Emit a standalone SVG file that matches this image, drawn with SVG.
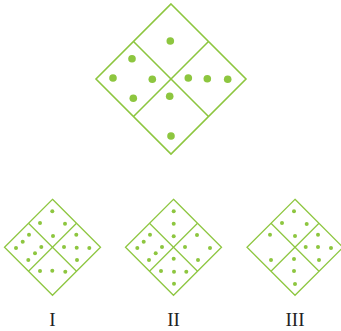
<svg xmlns="http://www.w3.org/2000/svg" width="341" height="331" viewBox="0 0 341 331">
<style>
.g{fill:none;stroke:#8dc63f;stroke-width:1.6}
.s{fill:none;stroke:#8dc63f;stroke-width:1.3}
.d{fill:#8dc63f}
.lbl{font-family:"Liberation Serif","Times New Roman",serif;font-size:19px;fill:#222;text-anchor:middle}
</style>
<rect width="341" height="331" fill="#fff"/>
<g id="main">
<polygon class="g" points="171,4 246,79 171,154 96,79"/>
<line class="g" x1="133.5" y1="41.5" x2="208.5" y2="116.5"/>
<line class="g" x1="208.5" y1="41.5" x2="133.5" y2="116.5"/>
<g class="d">
<circle cx="170.3" cy="41" r="3.8"/>
<circle cx="132" cy="58.7" r="3.8"/>
<circle cx="113" cy="78" r="3.8"/>
<circle cx="152.3" cy="79.3" r="3.8"/>
<circle cx="133.3" cy="98.3" r="3.8"/>
<circle cx="188.3" cy="78" r="3.8"/>
<circle cx="207.3" cy="78.7" r="3.8"/>
<circle cx="227.7" cy="79.3" r="3.8"/>
<circle cx="169.7" cy="96.3" r="3.8"/>
<circle cx="171" cy="136" r="3.8"/>
</g>
</g>
<g id="optI">
<polygon class="s" points="52.5,199.3 100.5,247.3 52.5,295.3 4.5,247.3"/>
<line class="s" x1="28.5" y1="223.3" x2="76.5" y2="271.3"/>
<line class="s" x1="76.5" y1="223.3" x2="28.5" y2="271.3"/>
<g class="d">
<circle cx="52.3" cy="211.3" r="2"/>
<circle cx="40" cy="223" r="2"/>
<circle cx="65" cy="223.7" r="2"/>
<circle cx="53" cy="236" r="2"/>
<circle cx="29" cy="234.7" r="2"/>
<circle cx="22.7" cy="241.7" r="2"/>
<circle cx="16" cy="248" r="2"/>
<circle cx="41.3" cy="247" r="2"/>
<circle cx="35" cy="253.3" r="2"/>
<circle cx="28.3" cy="260" r="2"/>
<circle cx="76.3" cy="234.7" r="2"/>
<circle cx="64" cy="247" r="2"/>
<circle cx="76.7" cy="247.7" r="2"/>
<circle cx="89.3" cy="248" r="2"/>
<circle cx="77" cy="260" r="2"/>
<circle cx="40" cy="271" r="2"/>
<circle cx="52.3" cy="270.7" r="2"/>
<circle cx="65.3" cy="271.7" r="2"/>
</g>
<text class="lbl" x="52.5" y="325.5">I</text>
</g>
<g id="optII">
<polygon class="s" points="173.5,199.3 221.5,247.3 173.5,295.3 125.5,247.3"/>
<line class="s" x1="149.5" y1="223.3" x2="197.5" y2="271.3"/>
<line class="s" x1="197.5" y1="223.3" x2="149.5" y2="271.3"/>
<g class="d">
<circle cx="173.7" cy="211.3" r="2"/>
<circle cx="173.7" cy="223.7" r="2"/>
<circle cx="173.7" cy="236.3" r="2"/>
<circle cx="150" cy="234.7" r="2"/>
<circle cx="143.7" cy="241.7" r="2"/>
<circle cx="137.3" cy="248" r="2"/>
<circle cx="162" cy="247" r="2"/>
<circle cx="155.7" cy="253.3" r="2"/>
<circle cx="149" cy="260" r="2"/>
<circle cx="197" cy="235" r="2"/>
<circle cx="185" cy="247" r="2"/>
<circle cx="210" cy="248" r="2"/>
<circle cx="198" cy="260" r="2"/>
<circle cx="173.7" cy="258.7" r="2"/>
<circle cx="161" cy="271" r="2"/>
<circle cx="174" cy="271.7" r="2"/>
<circle cx="186.3" cy="271.7" r="2"/>
<circle cx="174" cy="283.7" r="2"/>
</g>
<text class="lbl" x="173.5" y="325.5">II</text>
</g>
<g id="optIII">
<polygon class="s" points="295,199.3 343,247.3 295,295.3 247,247.3"/>
<line class="s" x1="271" y1="223.3" x2="319" y2="271.3"/>
<line class="s" x1="319" y1="223.3" x2="271" y2="271.3"/>
<g class="d">
<circle cx="294" cy="211.3" r="2"/>
<circle cx="282" cy="223" r="2"/>
<circle cx="306.7" cy="224" r="2"/>
<circle cx="295" cy="236" r="2"/>
<circle cx="270" cy="234.7" r="2"/>
<circle cx="271" cy="260" r="2"/>
<circle cx="318" cy="234.7" r="2"/>
<circle cx="305.7" cy="247" r="2"/>
<circle cx="318" cy="247" r="2"/>
<circle cx="331" cy="248" r="2"/>
<circle cx="319" cy="260" r="2"/>
<circle cx="294" cy="259" r="2"/>
<circle cx="294" cy="271" r="2"/>
<circle cx="295" cy="284" r="2"/>
</g>
<text class="lbl" x="295" y="325.5">III</text>
</g>
</svg>
